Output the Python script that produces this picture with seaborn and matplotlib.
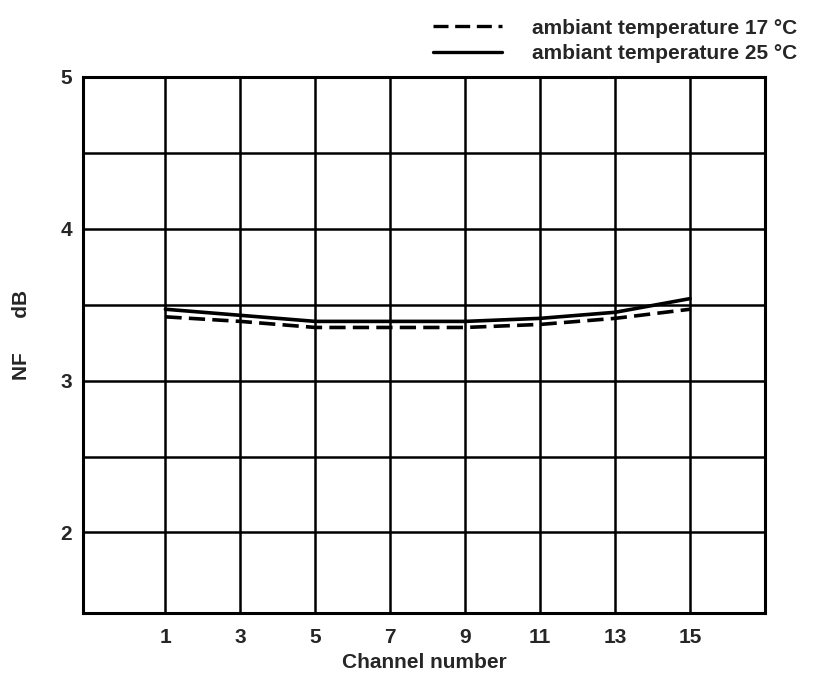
import matplotlib
matplotlib.use("Agg")
import matplotlib.pyplot as plt
import seaborn as sns
import pandas as pd
import numpy as np
from matplotlib.lines import Line2D

channels = [1, 3, 5, 7, 9, 11, 13, 15]
nf_17 = [3.42, 3.39, 3.35, 3.35, 3.35, 3.37, 3.41, 3.47]
nf_25 = [3.47, 3.43, 3.39, 3.39, 3.39, 3.41, 3.45, 3.54]
labels = ["ambiant temperature 17 °C", "ambiant temperature 25 °C"]
x_ticks = [1, 3, 5, 7, 9, 11, 13, 15]
y_ticks = [2, 3, 4, 5]
y_minor = [2.5, 3.5, 4.5]

sns.set_style("white")
plt.rcParams['font.family'] = ['Liberation Sans', 'DejaVu Sans']
plt.rcParams['font.weight'] = 'bold'

df = pd.DataFrame({
    "channel": channels * 2,
    "nf": nf_17 + nf_25,
    "series": [labels[0]] * len(channels) + [labels[1]] * len(channels),
})

fig = plt.figure(figsize=(8.16, 6.75), dpi=100)
ax = fig.add_axes([0.1017, 0.092, 0.8358, 0.794])

sns.lineplot(data=df, x="channel", y="nf", hue="series", style="series",
             palette=["black", "black"], dashes={labels[0]: (4.5, 2.0), labels[1]: ""},
             linewidth=2.6, ax=ax, legend=False)

ax.set_xlim(-1.2, 17)
ax.set_ylim(1.47, 5)
ax.set_xticks(x_ticks)
ax.set_xticklabels([str(t) for t in x_ticks], fontsize=15, fontweight='bold')
ax.set_yticks(y_ticks)
ax.set_yticklabels([str(t) for t in y_ticks], fontsize=15, fontweight='bold')
ax.set_yticks(y_minor, minor=True)
ax.tick_params(axis='x', which='both', length=0, pad=11)
ax.tick_params(axis='y', which='both', length=0, pad=8)
ax.grid(True, which='both', color='black', linewidth=1.8)
for s in ax.spines.values():
    s.set_color('black')
    s.set_linewidth(2.2)
ax.set_xlabel("Channel number", fontsize=15, fontweight='bold', labelpad=4)
ax.set_ylabel("")
fig.text(22 / 816, 1 - 335 / 675, "NF      dB", rotation=90, fontsize=15,
         fontweight='bold', ha='center', va='center')

handles = [Line2D([], [], color='black', linewidth=2.4, dashes=(4.5, 2.0)),
           Line2D([], [], color='black', linewidth=2.4)]
fig.legend(handles, labels, loc='upper right', bbox_to_anchor=(1.0, 1.0),
           frameon=False, handlelength=3.3, handletextpad=1.45,
           labelspacing=0.3, prop={'weight': 'bold', 'size': 15})

fig.savefig("out.png", dpi=100)
